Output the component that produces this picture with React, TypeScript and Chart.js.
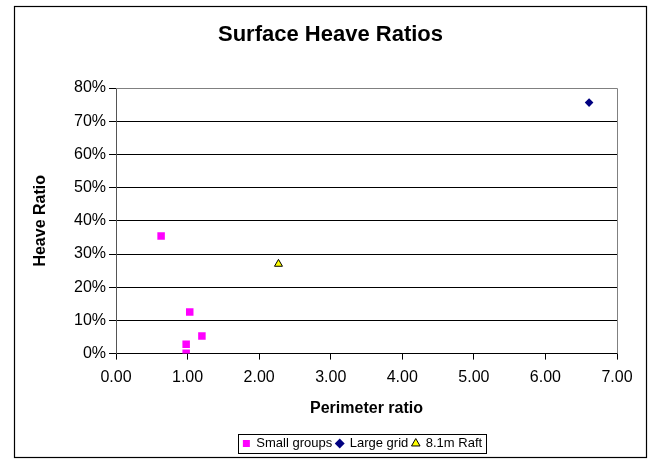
import React, { useEffect, useRef } from "react";
import { Chart, registerables } from "chart.js";

Chart.register(...registerables);

const smallGroupsX = [0.63, 1.03, 1.2, 0.98, 0.98];
const smallGroupsY = [0.354, 0.125, 0.053, 0.028, 0.001];
const largeGridX = [6.61];
const largeGridY = [0.756];
const raftX = [2.27];
const raftY = [0.27];

const seriesNames = ["Small groups", "Large grid", "8.1m Raft"];
const chartTitle = "Surface Heave Ratios";
const xTitle = "Perimeter ratio";
const yTitle = "Heave Ratio";

const FONT = "'Liberation Sans', Arial, sans-serif";
const LEGEND_PAD = 4;
const LEGEND_FONT = 13;

const toPoints = (xs: number[], ys: number[]) => xs.map((x, i) => ({ x, y: ys[i] }));

const outerBorder = {
  id: "outerBorder",
  afterDraw(chart: any) {
    const ctx = chart.ctx;
    ctx.save();
    ctx.strokeStyle = "#000";
    ctx.lineWidth = 1.2;
    ctx.strokeRect(14.5, 6.5, 632, 451);
    ctx.restore();
  },
};

// Shift title to centre over the whole chart box, legend to centre under the plot
const shiftBlocks = {
  id: "shiftBlocks",
  afterLayout(chart: any) {
    const t = chart.titleBlock;
    if (t) {
      t.left += 12;
      t.right += 12;
    }
    const lg = chart.legend;
    if (lg) {
      lg.left += 44;
      lg.right += 44;
    }
  },
};

const plotBorder = {
  id: "plotBorder",
  beforeDatasetsDraw(chart: any) {
    const { ctx, chartArea } = chart;
    ctx.save();
    ctx.strokeStyle = "#808080";
    ctx.lineWidth = 1;
    ctx.beginPath();
    ctx.moveTo(chartArea.left, Math.round(chartArea.top) + 0.5);
    ctx.lineTo(Math.round(chartArea.right) + 0.5, Math.round(chartArea.top) + 0.5);
    ctx.lineTo(Math.round(chartArea.right) + 0.5, chartArea.bottom);
    ctx.stroke();
    ctx.restore();
  },
};

const legendBox = {
  id: "legendBox",
  afterDraw(chart: any) {
    const lg = chart.legend;
    if (!lg || !lg.lineWidths || !lg.lineWidths.length) return;
    const rowW = lg.lineWidths[0];
    const start = (lg.left + LEGEND_PAD + lg.right - rowW) / 2;
    const end = start + rowW - LEGEND_PAD;
    const top = lg.top + LEGEND_PAD;
    const bottom = top + LEGEND_FONT;
    const ctx = chart.ctx;
    ctx.save();
    ctx.strokeStyle = "#000";
    ctx.lineWidth = 1;
    ctx.strokeRect(Math.round(start - 5) + 0.5, Math.round(top - 3) + 0.5, Math.round(end - start + 9), Math.round(bottom - top + 6));
    ctx.restore();
  },
};

export default function App() {
  const ref = useRef<HTMLCanvasElement | null>(null);

  useEffect(() => {
    if (!ref.current) return;
    const chart = new Chart(ref.current, {
      type: "scatter",
      data: {
        datasets: [
          {
            label: seriesNames[0],
            data: toPoints(smallGroupsX, smallGroupsY),
            pointStyle: "rect",
            pointRadius: 5.3,
            pointHoverRadius: 5.3,
            backgroundColor: "#FF00FF",
            borderColor: "#FF00FF",
            borderWidth: 0,
          },
          {
            label: seriesNames[1],
            data: toPoints(largeGridX, largeGridY),
            pointStyle: "rectRot",
            pointRadius: 4.3,
            pointHoverRadius: 4.3,
            backgroundColor: "#000080",
            borderColor: "#000080",
            borderWidth: 0,
          },
          {
            label: seriesNames[2],
            data: toPoints(raftX, raftY),
            pointStyle: "triangle",
            pointRadius: 4.6,
            pointHoverRadius: 4.6,
            backgroundColor: "#FFFF00",
            borderColor: "#000000",
            borderWidth: 1,
          },
        ],
      },
      options: {
        responsive: false,
        animation: false,
        layout: { padding: { left: 20, right: 37, top: 8, bottom: 1 } },
        plugins: {
          title: {
            display: true,
            text: chartTitle,
            color: "#000",
            font: { family: FONT, size: 22, weight: "bold" },
            padding: { top: 13.8, bottom: 39.8 },
          },
          legend: {
            position: "bottom",
            labels: {
              usePointStyle: true,
              boxWidth: 7,
              boxHeight: 7,
              padding: LEGEND_PAD,
              color: "#000",
              font: { family: FONT, size: LEGEND_FONT },
            },
          },
          tooltip: { enabled: false },
        },
        scales: {
          x: {
            type: "linear",
            min: 0,
            max: 7,
            ticks: {
              stepSize: 1,
              color: "#000",
              padding: 8,
              font: { family: FONT, size: 16 },
              callback: (v: any) => Number(v).toFixed(2),
            },
            grid: { drawOnChartArea: false, drawTicks: true, tickLength: 6, color: "#000" },
            border: { display: true, color: "#000", width: 1 },
            title: {
              display: true,
              text: xTitle,
              color: "#000",
              font: { family: FONT, size: 16, weight: "bold" },
              padding: { top: 4, bottom: 15 },
            },
          },
          y: {
            type: "linear",
            min: 0,
            max: 0.8,
            ticks: {
              stepSize: 0.1,
              color: "#000",
              padding: 3,
              font: { family: FONT, size: 16 },
              callback: (v: any) => Math.round(Number(v) * 100) + "%",
            },
            grid: { color: "#000", tickLength: 7, tickColor: "#000" },
            border: { display: true, color: "#555", width: 1 },
            title: {
              display: true,
              text: yTitle,
              color: "#000",
              font: { family: FONT, size: 16, weight: "bold" },
              padding: { top: 11.4, bottom: 20.4 },
            },
          },
        },
      },
      plugins: [shiftBlocks, outerBorder, plotBorder, legendBox],
    } as any);
    return () => chart.destroy();
  }, []);

  return (
    <div style={{ position: "absolute", left: 0, top: 0, width: 654, height: 461, background: "#fff" }}>
      <canvas ref={ref} width={654} height={461} style={{ display: "block" }} />
    </div>
  );
}
